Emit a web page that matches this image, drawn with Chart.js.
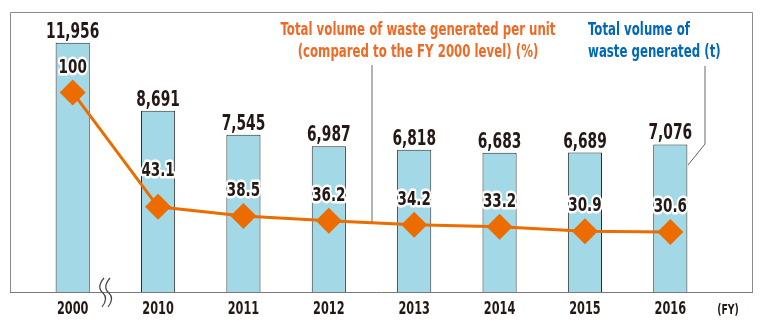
<!DOCTYPE html>
<html>
<head>
<meta charset="utf-8">
<script src="https://cdn.jsdelivr.net/npm/chart.js@4"></script>
<style>
  html, body { margin: 0; padding: 0; background: #fff; }
  #wrap { width: 765px; height: 328px; }
</style>
</head>
<body>
<div id="wrap"><canvas id="wasteChart"></canvas></div>
<script>
// data
const years = ['2000', '2010', '2011', '2012', '2013', '2014', '2015', '2016'];
const wasteTotal = [11956, 8691, 7545, 6987, 6818, 6683, 6689, 7076];
const wastePerUnit = [100, 43.1, 38.5, 36.2, 34.2, 33.2, 30.9, 30.6];

const FONT = '"DejaVu Sans Condensed", "DejaVu Sans", sans-serif';
const ORANGE = '#ec6c00';
const DARK = '#231815';

// condensed text: squeeze horizontally around the anchor
function narrowText(ctx, txt, x, y, sx, halo) {
  ctx.save();
  ctx.translate(x, y);
  ctx.scale(sx, 1);
  if (halo) {
    ctx.strokeStyle = '#fff';
    ctx.lineWidth = halo;
    ctx.lineJoin = 'round';
    ctx.strokeText(txt, 0, 0);
  }
  ctx.fillText(txt, 0, 0);
  ctx.restore();
}

// frame, labels, legend text, leader lines, break mark
const decorations = {
  id: 'decorations',
  afterDatasetsDraw(chart) {
    const ctx = chart.ctx;
    const area = chart.chartArea;
    const x = chart.scales.x;
    ctx.save();

    // frame
    ctx.strokeStyle = '#8c8c8c';
    ctx.lineWidth = 1;
    ctx.beginPath();
    ctx.moveTo(10.5, area.bottom);
    ctx.lineTo(10.5, 12.5);
    ctx.lineTo(752.5, 12.5);
    ctx.lineTo(752.5, area.bottom);
    ctx.stroke();
    ctx.strokeStyle = '#7a7a7a';
    ctx.beginPath();
    ctx.moveTo(10, area.bottom + 0.5);
    ctx.lineTo(753, area.bottom + 0.5);
    ctx.stroke();

    // break mark between 2000 and 2010
    ctx.strokeStyle = '#444';
    ctx.lineWidth = 1.2;
    [101, 107].forEach(function(bx) {
      ctx.beginPath();
      ctx.moveTo(bx + 3, 278);
      ctx.bezierCurveTo(bx - 3, 285, bx - 2, 290, bx + 2, 293);
      ctx.bezierCurveTo(bx + 6, 297, bx + 5, 302, bx + 1, 307);
      ctx.stroke();
    });

    // x tick labels
    ctx.fillStyle = DARK;
    ctx.font = 'bold 17px ' + FONT;
    ctx.textAlign = 'center';
    ctx.textBaseline = 'middle';
    years.forEach(function(y, i) {
      narrowText(ctx, y, x.getPixelForValue(i), 310, 0.74);
    });
    ctx.font = 'bold 14px ' + FONT;
    narrowText(ctx, '(FY)', 728, 310, 0.74);

    // bar value labels
    const barMeta = chart.getDatasetMeta(0);
    ctx.font = 'bold 21px ' + FONT;
    ctx.textBaseline = 'alphabetic';
    barMeta.data.forEach(function(bar, i) {
      narrowText(ctx, wasteTotal[i].toLocaleString('en-US'), bar.x, bar.y - 5, 0.73);
    });

    // leader lines
    ctx.strokeStyle = '#666';
    ctx.lineWidth = 1;
    ctx.beginPath();
    ctx.moveTo(372, 65);
    ctx.lineTo(372, 222);
    ctx.stroke();
    ctx.beginPath();
    ctx.moveTo(705, 66);
    ctx.lineTo(705, 144);
    ctx.lineTo(688, 165);
    ctx.stroke();

    // legend texts
    ctx.font = 'bold 17px ' + FONT;
    ctx.textBaseline = 'middle';
    ctx.fillStyle = '#ee6a25';
    ctx.textAlign = 'center';
    narrowText(ctx, 'Total volume of waste generated per unit', 418, 31, 0.77);
    narrowText(ctx, '(compared to the FY 2000 level) (%)', 418, 53, 0.77);
    ctx.fillStyle = '#0068b7';
    ctx.textAlign = 'left';
    narrowText(ctx, 'Total volume of', 588, 31, 0.77);
    narrowText(ctx, 'waste generated (t)', 588, 53, 0.77);

    // percent labels with white halo
    const lineMeta = chart.getDatasetMeta(1);
    ctx.font = 'bold 20px ' + FONT;
    ctx.textAlign = 'center';
    ctx.fillStyle = DARK;
    lineMeta.data.forEach(function(pt, i) {
      const dy = i === 1 ? 36 : 25;
      const txt = wastePerUnit[i] === 100 ? '100' : wastePerUnit[i].toFixed(1);
      narrowText(ctx, txt, pt.x, pt.y - dy, 0.75, 5);
    });

    ctx.restore();
  }
};

new Chart(document.getElementById('wasteChart'), {
  type: 'bar',
  data: {
    labels: years,
    datasets: [{
      label: 'Total volume of waste generated (t)',
      data: wasteTotal,
      backgroundColor: '#a3d9e6',
      borderColor: '#2b2b2b',
      borderWidth: 1,
      categoryPercentage: 1,
      barPercentage: 0.4,
      yAxisID: 'y',
      order: 2
    }, {
      type: 'line',
      label: 'Total volume of waste generated per unit (%)',
      data: wastePerUnit,
      borderColor: ORANGE,
      borderWidth: 3,
      pointStyle: 'rectRot',
      pointRadius: 13,
      pointBackgroundColor: ORANGE,
      pointBorderColor: ORANGE,
      pointBorderWidth: 0,
      tension: 0,
      yAxisID: 'y2',
      order: 1
    }]
  },
  options: {
    responsive: true,
    maintainAspectRatio: false,
    animation: false,
    layout: { padding: { left: 30, right: 52, top: 12, bottom: 36 } },
    plugins: { legend: { display: false }, tooltip: { enabled: false } },
    scales: {
      x: { display: false },
      y: { display: false, min: 0, max: 13380 },
      y2: { display: false, min: 0.7, max: 139.5 }
    }
  },
  plugins: [decorations]
});
</script>
</body>
</html>
